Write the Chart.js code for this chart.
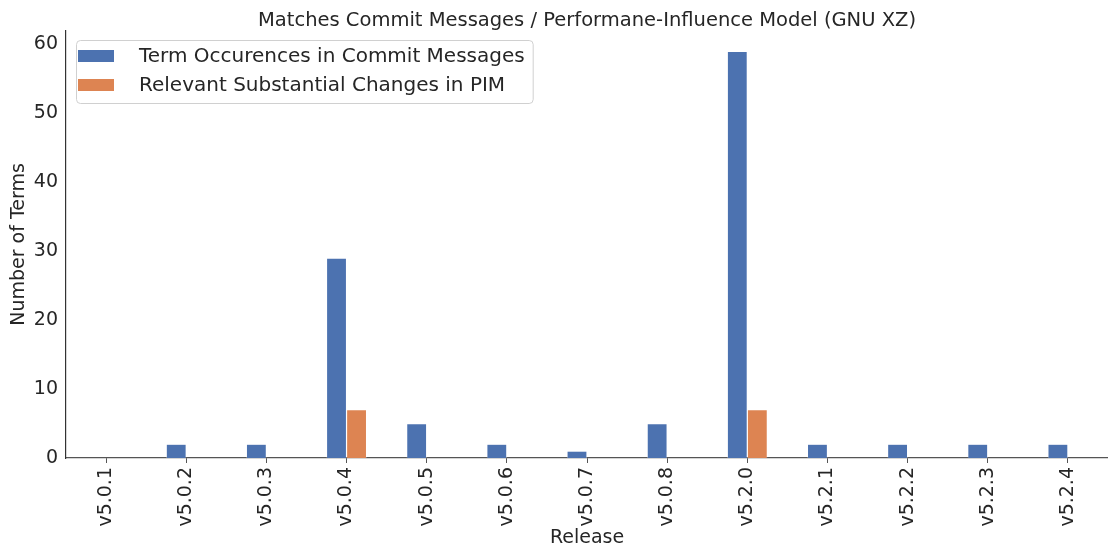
<!DOCTYPE html>
<html lang="en">
<head>
  <meta charset="UTF-8">
  <title>Matches Commit Messages</title>
  <script src="https://cdn.jsdelivr.net/npm/chart.js"></script>
  <style>
    html, body { margin: 0; padding: 0; background: #fff; }
    #wrap { width: 1108px; height: 549px; position: relative; }
  </style>
</head>
<body>
  <div id="wrap"><canvas id="chart"></canvas></div>
  <script>
    // data
    const releases = ['v5.0.1', 'v5.0.2', 'v5.0.3', 'v5.0.4', 'v5.0.5', 'v5.0.6', 'v5.0.7',
                      'v5.0.8', 'v5.2.0', 'v5.2.1', 'v5.2.2', 'v5.2.3', 'v5.2.4'];
    const termOccurences = [0, 2, 2, 29, 5, 2, 1, 5, 59, 2, 2, 2, 2];
    const relevantChanges = [0, 0, 0, 7, 0, 0, 0, 0, 7, 0, 0, 0, 0];
    const yTicks = [0, 10, 20, 30, 40, 50, 60];
    const chartTitle = 'Matches Commit Messages / Performane-Influence Model (GNU XZ)';

    const FONT = "'DejaVu Sans', sans-serif";
    const TEXT = '#262626';

    // title centred over the plot area and legend inside it, matplotlib style
    const mplDecor = {
      id: 'mplDecor',
      afterDraw(chart) {
        const ctx = chart.ctx;
        const a = chart.chartArea;
        const sets = chart.data.datasets;
        ctx.save();
        ctx.fillStyle = TEXT;
        ctx.font = '19.5px ' + FONT;
        ctx.textAlign = 'center';
        ctx.textBaseline = 'alphabetic';
        ctx.fillText(chartTitle, (a.left + a.right) / 2, 26);

        ctx.textAlign = 'left';
        ctx.font = '20px ' + FONT;
        let w = 0;
        sets.forEach(d => { w = Math.max(w, ctx.measureText(d.label).width); });
        const x = a.left + 10, y = a.top + 9;
        const rowH = 29;
        const bw = 63 + w + 8, bh = sets.length * rowH + 5;
        ctx.fillStyle = 'rgba(255,255,255,0.85)';
        ctx.strokeStyle = '#d0d0d0';
        ctx.lineWidth = 1;
        ctx.beginPath();
        ctx.roundRect(x + 0.5, y + 0.5, bw, bh, 4);
        ctx.fill();
        ctx.stroke();
        ctx.textBaseline = 'middle';
        sets.forEach((d, i) => {
          const cy = y + 16 + i * rowH;
          ctx.fillStyle = d.backgroundColor;
          ctx.fillRect(x + 2, cy - 6, 36, 12);
          ctx.fillStyle = TEXT;
          ctx.fillText(d.label, x + 63, cy + 1);
        });
        ctx.restore();
      }
    };

    new Chart(document.getElementById('chart'), {
      type: 'bar',
      data: {
        labels: releases,
        datasets: [
          {
            label: 'Term Occurences in Commit Messages',
            data: termOccurences,
            backgroundColor: '#4C72B0',
            borderColor: 'rgba(255,255,255,0.6)',
            borderWidth: 0.6,
            categoryPercentage: 0.5,
            barPercentage: 1.0
          },
          {
            label: 'Relevant Substantial Changes in PIM',
            data: relevantChanges,
            backgroundColor: '#DD8452',
            borderColor: 'rgba(255,255,255,0.6)',
            borderWidth: 0.6,
            categoryPercentage: 0.5,
            barPercentage: 1.0
          }
        ]
      },
      options: {
        responsive: true,
        maintainAspectRatio: false,
        animation: false,
        layout: { padding: { left: 0, right: 0, top: 31, bottom: 0 } },
        plugins: {
          legend: { display: false },
          tooltip: { enabled: false },
          title: { display: false }
        },
        scales: {
          x: {
            grid: { display: true, drawOnChartArea: false, drawTicks: true, tickLength: 5, color: '#555', offset: false },
            border: { display: true, color: '#555', width: 1.2 },
            ticks: {
              color: TEXT,
              font: { family: FONT, size: 19 },
              maxRotation: 90, minRotation: 90,
              padding: 4,
              autoSkip: false
            },
            title: {
              display: true,
              text: 'Release',
              color: TEXT,
              font: { family: FONT, size: 19 },
              padding: { top: 0, bottom: 0 }
            },
            afterFit(scale) { scale.height = 91; }
          },
          y: {
            min: 0,
            max: 61.95,
            grid: { display: false, drawTicks: false },
            border: { display: true, color: '#333', width: 1.2 },
            afterBuildTicks(scale) { scale.ticks = yTicks.map(v => ({ value: v })); },
            ticks: {
              color: TEXT,
              font: { family: FONT, size: 19 },
              padding: 8
            },
            title: {
              display: true,
              text: 'Number of Terms',
              color: TEXT,
              font: { family: FONT, size: 19 },
              padding: { top: 8, bottom: 0 }
            },
            afterFit(scale) { scale.width = 66; }
          }
        }
      },
      plugins: [mplDecor]
    });
  </script>
</body>
</html>
